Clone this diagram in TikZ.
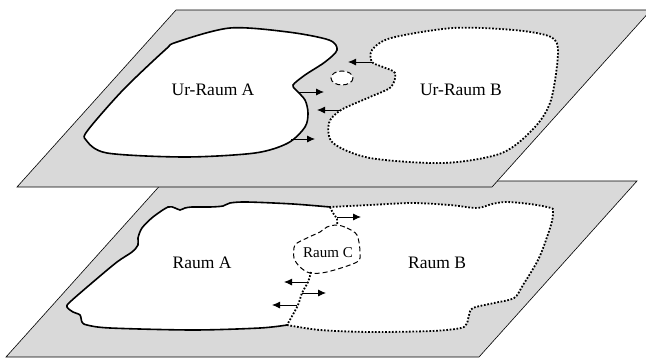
\documentclass[tikz,border=0pt]{standalone}
\usepackage{fontspec}
\setmainfont{Liberation Serif}
\usetikzlibrary{arrows.meta}
\tikzset{
  plane/.style={fill=black!15, draw=black, line width=0.6pt, line join=miter},
  solidb/.style={draw=black, line width=1.6pt},
  dottedb/.style={draw=black, line width=1.8pt, dash pattern=on 1.7pt off 1.7pt},
  dashedc/.style={draw=black, line width=1pt, dash pattern=on 5pt off 3pt},
  arr/.style={draw=black, line width=0.9pt, -{Latex[length=8pt,width=7pt]}},
  bigtxt/.style={font=\fontsize{17.5}{20}\selectfont, inner sep=0pt},
  smalltxt/.style={font=\fontsize{15}{18}\selectfont, inner sep=0pt}
}
\begin{document}
\begin{tikzpicture}[x=1pt,y=-1pt]
\useasboundingbox (0,0) rectangle (646,359);
\clip (0,0) rectangle (646,359);
% ---------- bottom plane ----------
\draw[plane] (164,181) -- (637,181) -- (479,357) -- (6,357) -- cycle;
\fill[white] plot[smooth] coordinates {(330,207) (293,204) (247,202) (230,203) (223,206) (210,207) (192,207) (185,208) (180,210) (175,208) (168,207) (153,217) (142,228) (138,238) (138,245) (132,252) (117,262) (93,282) (70,302) (67,307) (73,312) (80,315) (82,322) (87,325) (110,328) (193,330) (260,328) (287,325)}
  -- plot[smooth] coordinates {(287,325) (320,330) (370,332) (432,331) (461,328) (467,323) (469,315) (473,308) (494,303) (514,298) (523,285) (539,258) (551,225) (553,212) (551,208) (530,204) (506,202) (492,204) (477,208) (450,205) (412,203) (370,205) (330,207)} -- cycle;
\draw[solidb] plot[smooth] coordinates {(330,207) (293,204) (247,202) (230,203) (223,206) (210,207) (192,207) (185,208) (180,210) (175,208) (168,207) (153,217) (142,228) (138,238) (138,245) (132,252) (117,262) (93,282) (70,302) (67,307) (73,312) (80,315) (82,322) (87,325) (110,328) (193,330) (260,328) (287,325)};
\draw[dottedb] plot[smooth] coordinates {(287,325) (320,330) (370,332) (432,331) (461,328) (467,323) (469,315) (473,308) (494,303) (514,298) (523,285) (539,258) (551,225) (553,212) (551,208) (530,204) (506,202) (492,204) (477,208) (450,205) (412,203) (370,205) (330,207)};
\draw[dottedb] plot[smooth] coordinates {(330,207) (333,213) (337,219) (337,225)};
\draw[dottedb] plot[smooth] coordinates {(311,272) (308,282) (302,293) (298,305) (291,318) (287,325)};
\draw[dashedc] plot[smooth cycle] coordinates {(337,225) (347,228) (357,235) (360,252) (357,262) (327,272) (310,273) (300,267) (294,258) (295,245) (307,238) (320,232) (327,227)};
\node[bigtxt] (rA) at (202,263) {Raum A};
\node[bigtxt] (rB) at (437,263) {Raum B};
\node[smalltxt] (rC) at (328,253) {Raum C};
\coordinate (b1s) at (337,217); \coordinate (b1e) at (361,217);
\coordinate (b2s) at (308,282); \coordinate (b2e) at (284,282);
\coordinate (b3s) at (302,293); \coordinate (b3e) at (326,293);
\coordinate (b4s) at (297,305); \coordinate (b4e) at (272,305);
\draw[arr] (b1s) -- (b1e);
\draw[arr] (b2s) -- (b2e);
\draw[arr] (b3s) -- (b3e);
\draw[arr] (b4s) -- (b4e);
% ---------- top plane ----------
\draw[plane] (176,10) -- (651,10) -- (492,187) -- (17,187) -- cycle;
\draw[solidb, fill=white] plot[smooth cycle] coordinates {(177,42) (230,28) (288,32) (329,40) (337,50) (325,62) (305,75) (293,85) (296,90) (305,100) (308,113) (305,127) (288,143) (255,153) (185,157) (107,153) (86,140) (88,130) (123,90) (165,50)};
\draw[dottedb, fill=white] plot[smooth cycle] coordinates {(372,50) (391,38) (453,28) (514,30) (551,37) (558,53) (551,100) (535,127) (502,153) (444,163) (370,158) (333,143) (329,123) (341,110) (370,97) (391,87) (395,73) (383,67) (372,62)};
\draw[dashedc, fill=white] (342,78) ellipse [x radius=11, y radius=7];
\node[bigtxt] (urA) at (213,90) {Ur-Raum A};
\node[bigtxt] (urB) at (461,90) {Ur-Raum B};
\coordinate (t1s) at (298,92); \coordinate (t1e) at (324,92);
\coordinate (t2s) at (291,139); \coordinate (t2e) at (315,139);
\coordinate (t3s) at (372,62); \coordinate (t3e) at (348,62);
\coordinate (t4s) at (341,110); \coordinate (t4e) at (317,110);
\draw[arr] (t1s) -- (t1e);
\draw[arr] (t2s) -- (t2e);
\draw[arr] (t3s) -- (t3e);
\draw[arr] (t4s) -- (t4e);
\end{tikzpicture}
\end{document}
